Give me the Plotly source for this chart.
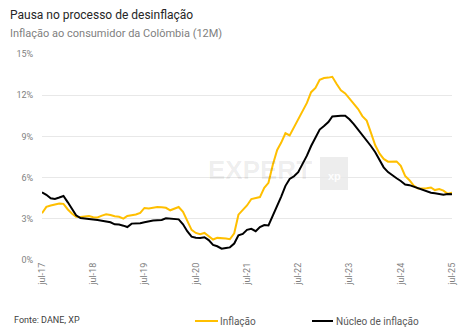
import plotly.graph_objects as go
import pandas as pd

dates = pd.date_range("2017-07-01", "2025-07-01", freq="MS")

inflacao = [
    3.40, 3.87, 3.97, 4.05, 4.12, 4.09,
    3.68, 3.37, 3.14, 3.13, 3.16, 3.20, 3.12, 3.10, 3.23, 3.33, 3.27, 3.18,
    3.15, 3.01, 3.21, 3.25, 3.31, 3.43, 3.79, 3.75, 3.82, 3.86, 3.84, 3.80,
    3.62, 3.72, 3.86, 3.51, 2.85, 2.19, 1.97, 1.88, 1.97, 1.75, 1.49, 1.61,
    1.60, 1.56, 1.51, 1.95, 3.30, 3.63, 3.97, 4.44, 4.51, 4.58, 5.26, 5.62,
    6.94, 8.01, 8.53, 9.23, 9.07, 9.67, 10.21, 10.84, 11.44, 12.22, 12.53, 13.12,
    13.25, 13.28, 13.34, 12.82, 12.36, 12.13, 11.78, 11.43, 10.99, 10.48, 10.15, 9.28,
    8.35, 7.74, 7.36, 7.16, 7.16, 7.18, 6.86, 6.12, 5.81, 5.41, 5.20, 5.20,
    5.22, 5.28, 5.09, 5.16, 5.05, 4.82, 4.90,
]

nucleo = [
    4.93, 4.75, 4.50, 4.45, 4.55, 4.66,
    4.20, 3.70, 3.25, 3.05, 3.00, 2.97, 2.95, 2.92, 2.88, 2.80, 2.75, 2.60,
    2.58, 2.50, 2.40, 2.65, 2.66, 2.68, 2.75, 2.82, 2.87, 2.90, 2.92, 3.04,
    3.00, 2.98, 2.96, 2.60, 2.10, 1.70, 1.62, 1.60, 1.66, 1.45, 1.10, 1.00,
    0.82, 0.88, 0.92, 1.20, 1.80, 1.90, 2.20, 2.27, 2.10, 2.40, 2.55, 2.52,
    3.20, 3.90, 4.60, 5.40, 5.90, 6.10, 6.40, 7.00, 7.60, 8.30, 8.90, 9.50,
    9.75, 10.05, 10.45, 10.50, 10.50, 10.51, 10.25, 9.90, 9.50, 9.15, 8.75, 8.30,
    7.85, 7.30, 6.75, 6.40, 6.15, 5.95, 5.75, 5.50, 5.45, 5.35, 5.20, 5.10,
    5.00, 4.90, 4.86, 4.82, 4.76, 4.80, 4.78,
]

tick_dates = [f"{y}-07-01" for y in range(2017, 2026)]
tick_labels = [f"jul-{y % 100:02d}" for y in range(2017, 2026)]
y_ticks = [0, 3, 6, 9, 12, 15]
y_labels = [f"{v}%" for v in y_ticks]

series_names = ["Inflação", "Núcleo de inflação"]
series_colors = ["#FFBF00", "#000000"]

FONT = "Roboto"
GRAY = "#7f7f7f"

# pixel -> paper helpers (plot area: x 42..452, y 54..260)
def px(x):
    return (x - 42) / 410

def py(y):
    return (260 - y) / 206

fig = go.Figure()
for name, vals, col in zip(series_names, [inflacao, nucleo], series_colors):
    fig.add_trace(go.Scatter(x=dates, y=vals, name=name, mode="lines",
                             line=dict(color=col, width=2), showlegend=False))

legend_line_x = [(195, 218), (312, 333)]
legend_text_x = [219, 335]
legend_y = 321

annotations = [
    dict(text="Pausa no processo de desinflação", xref="paper", yref="paper",
         x=px(8), y=py(15), xanchor="left", yanchor="middle",
         showarrow=False, font=dict(family=FONT, size=12, color="#262626")),
    dict(text="Inflação ao consumidor da Colômbia (12M)", xref="paper", yref="paper",
         x=px(8), y=py(33), xanchor="left", yanchor="middle",
         showarrow=False, font=dict(family=FONT, size=11, color="#808080")),
    dict(text="Fonte: DANE, XP", xref="paper", yref="paper",
         x=px(12), y=py(320), xanchor="left", yanchor="middle",
         showarrow=False, font=dict(family=FONT, size=9, color="#404040")),
    dict(text="<b>EXPERT</b>", xref="paper", yref="paper",
         x=px(260), y=py(170), xanchor="center", yanchor="middle",
         showarrow=False, font=dict(family="Liberation Sans", size=26, color="rgba(0,0,0,0.07)")),
    dict(text="<b>xp</b>", xref="paper", yref="paper",
         x=px(334), y=py(176), xanchor="center", yanchor="middle",
         showarrow=False, font=dict(family="Liberation Sans", size=11, color="rgba(255,255,255,0.95)")),
]
shapes = [
    dict(type="rect", xref="paper", yref="paper", layer="below",
         x0=px(320), x1=px(348), y0=py(190), y1=py(157),
         fillcolor="rgba(0,0,0,0.07)", line=dict(width=0)),
]
for name, col, (x0, x1), tx in zip(series_names, series_colors, legend_line_x, legend_text_x):
    shapes.append(dict(type="line", xref="paper", yref="paper",
                       x0=px(x0), x1=px(x1), y0=py(legend_y), y1=py(legend_y),
                       line=dict(color=col, width=2)))
    annotations.append(dict(text=name, xref="paper", yref="paper",
                            x=px(tx), y=py(legend_y), xanchor="left", yanchor="middle",
                            xshift=-1, showarrow=False,
                            font=dict(family=FONT, size=10, color="#595959")))

fig.update_layout(
    width=473, height=334,
    margin=dict(l=42, r=21, t=54, b=74, autoexpand=False),
    paper_bgcolor="white", plot_bgcolor="white",
    font=dict(family=FONT, size=9, color=GRAY),
    showlegend=False,
    xaxis=dict(
        type="date",
        range=["2017-07-01", "2025-07-01"],
        tickvals=tick_dates, ticktext=tick_labels, tickangle=-90,
        showgrid=False, zeroline=False, showline=False,
        ticks="", tickfont=dict(family=FONT, size=9, color=GRAY),
    ),
    yaxis=dict(
        range=[0, 15], tickvals=y_ticks, ticktext=y_labels,
        showgrid=True, gridcolor="#e8e8e8", gridwidth=1, zeroline=False,
        ticks="outside", ticklen=6, tickcolor="rgba(0,0,0,0)",
        tickfont=dict(family=FONT, size=9, color=GRAY),
    ),
    annotations=annotations,
    shapes=shapes,
)

fig.write_html("out.html")
